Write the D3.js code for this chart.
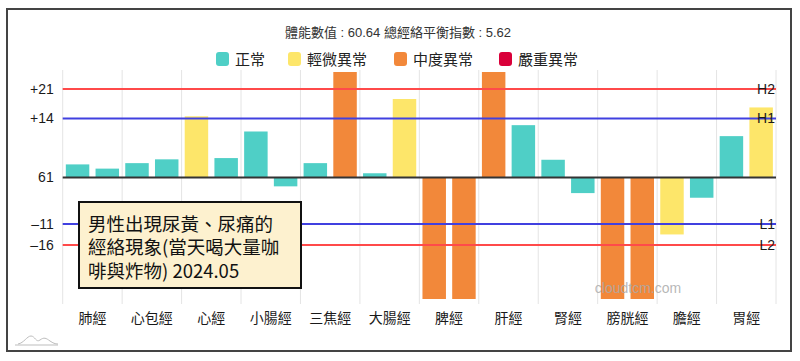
<!DOCTYPE html>
<html>
<head>
<meta charset="utf-8">
<script src="https://cdn.jsdelivr.net/npm/d3@7"></script>
<style>
  html, body { margin: 0; padding: 0; background: #fff; }
  svg { display: block; font-family: "Liberation Sans", "Noto Sans CJK TC", sans-serif; }
</style>
</head>
<body>
<svg id="chart" width="800" height="361"></svg>
<script>
// ---- data ----
const titleText = "體能數值 : 60.64 總經絡平衡指數 : 5.62";
const categories = ["肺經","心包經","心經","小腸經","三焦經","大腸經","脾經","肝經","腎經","膀胱經","膽經","胃經"];
const leftValues  = [3.1, 3.4, 14.5, 10.9, 3.4, 1.0, -32, 30, 4.2, -32, -13.5, 9.8];
const rightValues = [2.1, 4.3, 4.6, -2.1, 30, 18.6, -32, 12.4, -3.7, -32, -4.8, 16.6];
const legendLabels = ["正常","輕微異常","中度異常","嚴重異常"];
const legendColors = ["#4fcfc6","#fde66a","#f2883a","#d9003a"];
const refValues = [21, 14, -11, -16];
const refNames  = ["H2","H1","L1","L2"];
const refColors = ["#ff4a4a","#4040e0","#4040e0","#ff4a4a"];
const yTickValues = [21, 14, 0, -11, -16];
const yTickLabels = ["+21","+14","61","–11","–16"];
const noteLines = ["男性出現尿黃、尿痛的","經絡現象(當天喝大量咖","啡與炸物) 2024.05"];
const watermark = "cloudtcm.com";

function statusIndex(v) {
  if (v > 0) { if (v > 21) return 2; if (v > 14) return 1; return 0; }
  if (v < -16) return 2; if (v < -11) return 1; return 0;
}
function colorFor(v) { return legendColors[statusIndex(v)]; }

const svg = d3.select("#chart");
const plot = { left: 62.7, right: 776, top: 72, bottom: 299 };

// outer frame
svg.append("rect").attr("x", 7).attr("y", 9).attr("width", 784).attr("height", 342)
  .attr("fill", "#fff").attr("stroke", "#444").attr("stroke-width", 2);

// title
svg.append("text").attr("x", 398).attr("y", 32).attr("text-anchor", "middle")
  .attr("dominant-baseline", "central").attr("font-size", 13).attr("fill", "#333")
  .text(titleText);

// legend
const legendX = [216, 288, 394, 499];
const leg = svg.append("g");
legendLabels.forEach((l, i) => {
  leg.append("rect").attr("x", legendX[i]).attr("y", 52).attr("width", 13).attr("height", 14)
    .attr("rx", 3).attr("fill", legendColors[i]);
  leg.append("text").attr("x", legendX[i] + 19).attr("y", 59.5).attr("dominant-baseline", "central")
    .attr("font-size", 15).attr("fill", "#222").text(l);
});

// scales
const x = d3.scaleBand().domain(categories).range([plot.left, plot.right]).padding(0);
const sub = d3.scaleBand().domain(["L","R"]).range([0, x.bandwidth()]).paddingInner(0.21).paddingOuter(0.105);
const y = d3.scaleLinear().domain([-28.8, 25]).range([plot.bottom, plot.top]);

// gridlines
const grid = svg.append("g");
const gridX = categories.map(c => x(c)).concat([plot.right]);
grid.selectAll("line").data(gridX).join("line")
  .attr("x1", d => d).attr("x2", d => d).attr("y1", plot.top - 2).attr("y2", plot.bottom + 5)
  .attr("stroke", "#e4e4e4").attr("stroke-width", 1);

// bars
svg.append("clipPath").attr("id", "clip").append("rect")
  .attr("x", plot.left).attr("y", plot.top).attr("width", plot.right - plot.left).attr("height", plot.bottom - plot.top);
const bars = [];
categories.forEach((c, i) => {
  bars.push({ c, side: "L", v: leftValues[i] });
  bars.push({ c, side: "R", v: rightValues[i] });
});
svg.append("g").attr("clip-path", "url(#clip)").selectAll("rect").data(bars).join("rect")
  .attr("x", d => x(d.c) + sub(d.side))
  .attr("width", sub.bandwidth())
  .attr("y", d => y(Math.max(0, d.v)))
  .attr("height", d => Math.abs(y(d.v) - y(0)))
  .attr("fill", d => colorFor(d.v));

// reference lines
const refs = svg.append("g");
refValues.forEach((v, i) => {
  refs.append("line").attr("x1", plot.left).attr("x2", plot.right).attr("y1", y(v)).attr("y2", y(v))
    .attr("stroke", refColors[i]).attr("stroke-width", 2);
});
refs.append("line").attr("x1", plot.left).attr("x2", plot.right).attr("y1", y(0)).attr("y2", y(0))
  .attr("stroke", "#333").attr("stroke-width", 2);
refValues.forEach((v, i) => {
  refs.append("text").attr("x", 775).attr("y", y(v)).attr("text-anchor", "end")
    .attr("dominant-baseline", "central").attr("font-size", 14).attr("fill", "#1a1a1a").text(refNames[i]);
});

// y axis
const yAxis = d3.axisLeft(y).tickValues(yTickValues).tickSize(0).tickPadding(9)
  .tickFormat((d, i) => yTickLabels[i]);
const ya = svg.append("g").attr("transform", `translate(${plot.left},0)`).call(yAxis);
ya.select(".domain").remove();
ya.selectAll("text").attr("font-size", 14).attr("fill", "#1a1a1a").attr("font-family", "Liberation Sans, sans-serif");

// x axis
const xAxis = d3.axisBottom(x).tickSize(0).tickPadding(14);
const xa = svg.append("g").attr("transform", `translate(0,${plot.bottom})`).call(xAxis);
xa.select(".domain").remove();
xa.selectAll("text").attr("font-size", 14).attr("fill", "#1a1a1a").attr("font-family", "Noto Sans CJK TC, sans-serif");

// watermark
svg.append("text").attr("x", 638).attr("y", 288).attr("text-anchor", "middle")
  .attr("dominant-baseline", "central").attr("font-size", 14).attr("fill", "#aaaaaa")
  .attr("fill-opacity", 0.85).text(watermark);

// annotation box
const note = svg.append("g");
note.append("rect").attr("x", 79).attr("y", 202).attr("width", 222).attr("height", 86)
  .attr("fill", "#fdf1cf").attr("stroke", "#111").attr("stroke-width", 2);
noteLines.forEach((t, i) => {
  note.append("text").attr("x", 88).attr("y", 222.5 + i * 23.5).attr("dominant-baseline", "central")
    .attr("font-size", 18.5).attr("fill", "#111").attr("font-family", "Noto Sans CJK TC, Liberation Sans, sans-serif")
    .text(t);
});

// small logo bottom-left
const logo = svg.append("g").attr("fill", "none").attr("stroke", "#bdbdbd").attr("stroke-width", 1);
logo.append("path").attr("d", "M15,345 L58,345");
logo.append("path").attr("d", "M18,344 C24,343 27,336 31,336 C35,336 36,343 40,340 C44,337 46,338 50,341 C53,343 55,344 58,344");
</script>
</body>
</html>
